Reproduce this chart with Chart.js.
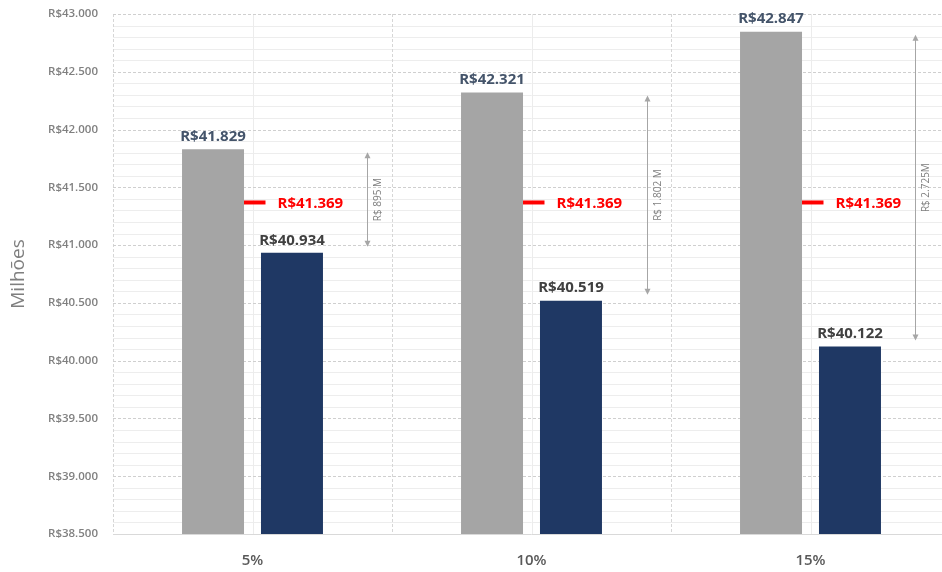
<!DOCTYPE html>
<html>
<head>
<meta charset="utf-8">
<script src="https://cdn.jsdelivr.net/npm/chart.js@4.4.1/dist/chart.umd.min.js"></script>
<style>
  html, body { margin: 0; padding: 0; background: #fff; overflow: hidden; }
  #wrap { width: 960px; height: 572px; }
</style>
</head>
<body>
<div id="wrap"><canvas id="chart"></canvas></div>
<script>
const categories = ['5%', '10%', '15%'];
const grossValues = [41829, 42321, 42847];
const netValues = [40934, 40519, 40122];
const referenceValues = [41369, 41369, 41369];
const gapLabels = ['R$ 895 M', 'R$ 1.802 M', 'R$ 2.725M'];
const yMin = 38500;
const yMax = 43000;
const yStep = 500;
const yMinorStep = 100;

const FONT = '"Open Sans", "Liberation Sans", sans-serif';

function brl(v) {
  return 'R$' + String(v).replace(/\B(?=(\d{3})+(?!\d))/g, '.');
}

// background grid: light minor lines every 100, dashed majors every 500,
// dashed verticals between groups and faint ones through group centres
const gridPlugin = {
  id: 'grid',
  beforeDatasetsDraw(chart) {
    const { ctx, chartArea: a, scales: { x, y } } = chart;
    ctx.save();
    ctx.lineWidth = 1;
    for (let v = yMin; v <= yMax; v += yMinorStep) {
      if ((v - yMin) % yStep === 0) continue;
      const py = Math.round(y.getPixelForValue(v)) + 0.5;
      ctx.strokeStyle = '#ededed';
      ctx.setLineDash([]);
      ctx.beginPath(); ctx.moveTo(a.left, py); ctx.lineTo(a.right, py); ctx.stroke();
    }
    const half = (x.getPixelForValue(1) - x.getPixelForValue(0)) / 2;
    categories.forEach((c, i) => {
      const cx = Math.round(x.getPixelForValue(i)) + 0.5;
      ctx.strokeStyle = '#ececec';
      ctx.setLineDash([]);
      ctx.beginPath(); ctx.moveTo(cx, a.top); ctx.lineTo(cx, a.bottom); ctx.stroke();
    });
    for (let i = 0; i <= categories.length; i++) {
      const bx = Math.round(x.getPixelForValue(0) - half + i * 2 * half) + 0.5;
      ctx.strokeStyle = '#d6d6d6';
      ctx.setLineDash([3, 2]);
      ctx.beginPath(); ctx.moveTo(bx, a.top); ctx.lineTo(bx, a.bottom); ctx.stroke();
    }
    for (let v = yMin + yStep; v <= yMax; v += yStep) {
      const py = Math.round(y.getPixelForValue(v)) + 0.5;
      ctx.strokeStyle = '#cfcfcf';
      ctx.setLineDash([3, 2]);
      ctx.beginPath(); ctx.moveTo(a.left, py); ctx.lineTo(a.right, py); ctx.stroke();
    }
    const by = Math.round(a.bottom) + 0.5;
    ctx.setLineDash([]);
    ctx.strokeStyle = '#d9d9d9';
    ctx.beginPath(); ctx.moveTo(a.left, by); ctx.lineTo(a.right, by); ctx.stroke();
    ctx.restore();
  }
};

// value labels, reference label and the gap arrows
const labelPlugin = {
  id: 'labels',
  afterDatasetsDraw(chart) {
    const { ctx, scales: { x, y } } = chart;
    const gross = chart.getDatasetMeta(0).data;
    const net = chart.getDatasetMeta(1).data;
    const ref = chart.getDatasetMeta(2).data;
    const arrowShift = [114, 115, 104];
    ctx.save();
    ctx.font = 'bold 15px ' + FONT;
    ctx.textAlign = 'center';
    ctx.textBaseline = 'bottom';
    gross.forEach((bar, i) => {
      ctx.fillStyle = '#44546A';
      ctx.fillText(brl(grossValues[i]), bar.x, bar.y - 5);
    });
    net.forEach((bar, i) => {
      ctx.fillStyle = '#404040';
      ctx.fillText(brl(netValues[i]), bar.x, bar.y - 5);
    });
    ctx.textAlign = 'left';
    ctx.textBaseline = 'middle';
    ctx.fillStyle = '#FF0000';
    ref.forEach((pt, i) => {
      ctx.fillText(brl(referenceValues[i]), pt.x + 25, pt.y + 1);
    });

    categories.forEach((c, i) => {
      const ax = Math.round(x.getPixelForValue(i) + arrowShift[i]) + 0.5;
      const top = y.getPixelForValue(grossValues[i]) + 3;
      const bot = y.getPixelForValue(netValues[i]) - 6;
      ctx.strokeStyle = '#a6a6a6';
      ctx.fillStyle = '#a6a6a6';
      ctx.lineWidth = 1;
      ctx.beginPath(); ctx.moveTo(ax, top + 4); ctx.lineTo(ax, bot - 4); ctx.stroke();
      ctx.beginPath(); ctx.moveTo(ax, top); ctx.lineTo(ax - 3, top + 6); ctx.lineTo(ax + 3, top + 6); ctx.closePath(); ctx.fill();
      ctx.beginPath(); ctx.moveTo(ax, bot); ctx.lineTo(ax - 3, bot - 6); ctx.lineTo(ax + 3, bot - 6); ctx.closePath(); ctx.fill();

      ctx.save();
      ctx.translate(ax + 11, (top + bot) / 2);
      ctx.rotate(-Math.PI / 2);
      ctx.font = '10px ' + FONT;
      ctx.fillStyle = '#7f7f7f';
      ctx.textAlign = 'center';
      ctx.textBaseline = 'middle';
      ctx.fillText(gapLabels[i], 0, 0);
      ctx.restore();
    });
    ctx.restore();
  }
};

new Chart(document.getElementById('chart'), {
  data: {
    labels: categories,
    datasets: [
      {
        type: 'bar',
        data: grossValues,
        backgroundColor: '#A5A5A5',
        categoryPercentage: 0.566,
        barPercentage: 0.785
      },
      {
        type: 'bar',
        data: netValues,
        backgroundColor: '#1F3864',
        categoryPercentage: 0.566,
        barPercentage: 0.785
      },
      {
        type: 'line',
        data: referenceValues,
        showLine: false,
        pointStyle: 'line',
        pointRadius: 13,
        pointHoverRadius: 13,
        pointBorderWidth: 4,
        borderColor: '#FF0000',
        pointBorderColor: '#FF0000'
      }
    ]
  },
  options: {
    responsive: true,
    maintainAspectRatio: false,
    animation: false,
    events: [],
    layout: { autoPadding: false, padding: { top: 14, right: 10, bottom: 0, left: 0 } },
    plugins: {
      legend: { display: false },
      tooltip: { enabled: false }
    },
    scales: {
      x: {
        grid: { display: false, drawTicks: false },
        border: { display: false },
        ticks: {
          padding: 18,
          color: '#595959',
          font: { family: FONT, size: 15, weight: '600' }
        },
        afterFit(scale) { scale.height = 38; }
      },
      y: {
        min: yMin,
        max: yMax,
        grid: { display: false, drawTicks: false },
        border: { display: false },
        ticks: {
          stepSize: yStep,
          padding: 15,
          color: '#808080',
          font: { family: FONT, size: 11.5, weight: '600' },
          callback: v => brl(v)
        },
        title: {
          display: true,
          text: 'Milhões',
          color: '#7f7f7f',
          padding: { top: 7, bottom: 0 },
          font: { family: FONT, size: 19 }
        },
        afterFit(scale) {
          scale.width = 113;
          scale.paddingTop = 0;
          scale.paddingBottom = 0;
        }
      }
    }
  },
  plugins: [gridPlugin, labelPlugin]
});
</script>
</body>
</html>
